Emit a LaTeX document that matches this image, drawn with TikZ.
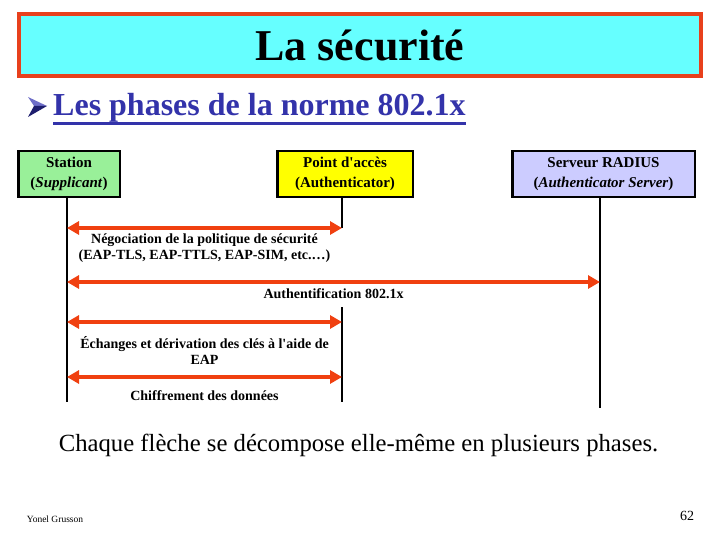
\documentclass[tikz,border=0pt]{standalone}
\usepackage{fontspec}
\setmainfont{Liberation Serif}
\usepackage{tikz}
\usetikzlibrary{arrows.meta,positioning,calc}
\definecolor{titlecyan}{RGB}{102,255,255}
\definecolor{titleborder}{RGB}{232,64,28}
\definecolor{subblue}{RGB}{51,51,170}
\definecolor{bulletdark}{RGB}{30,30,110}
\definecolor{bulletlight}{RGB}{110,110,200}
\definecolor{phasered}{RGB}{240,64,16}
\definecolor{stagreen}{RGB}{153,240,153}
\definecolor{accyellow}{RGB}{255,255,0}
\definecolor{radlilac}{RGB}{204,204,255}

\begin{document}
\begin{tikzpicture}[
  x=1pt, y=-1pt,
  titlebox/.style={rectangle, draw=titleborder, fill=titlecyan, line width=3.5pt,
    minimum width=682pt, minimum height=62pt, font=\fontsize{44}{48}\selectfont\bfseries},
  actor/.style={rectangle, draw=black, line width=2.5pt, minimum height=46pt,
    align=center, inner sep=0pt, font=\fontsize{15}{20}\selectfont\bfseries},
  life/.style={black, line width=2.5pt},
  phase/.style={{Triangle[length=12pt,width=13pt]}-{Triangle[length=12pt,width=13pt]},
    phasered, line width=4.5pt},
  lbl/.style={align=center, inner sep=0pt, font=\fontsize{14}{16}\selectfont\bfseries}]
\useasboundingbox[fill=white] (0,0) rectangle (720,540);
% titre
\node[titlebox] (title) at (360,45) {La sécurité};
\fill[bulletlight] (28,97) -- (47,106) -- (34,106) -- cycle;
\fill[bulletdark] (34,106) -- (47,106) -- (28,117) -- cycle;
\node[anchor=base west, inner sep=0pt, text=subblue,
  font=\fontsize{32}{36}\selectfont\bfseries] (sub) at (53,116) {Les phases de la norme 802.1x};
\draw[subblue, line width=2.5pt] ([yshift=-7.5pt]sub.base west) -- ([yshift=-7.5pt]sub.base east);
% acteurs
\node[actor, fill=stagreen, minimum width=101.5pt] (sta) at (69,174) {Station\\(\textit{Supplicant})};
\node[actor, fill=accyellow, minimum width=135.5pt] (acc) at (345,174) {Point d\textquotesingle accès\\(Authenticator)};
\node[actor, fill=radlilac, minimum width=182.5pt] (rad) at (603.5,174) {Serveur RADIUS\\(\textit{Authenticator Server})};
% lignes de vie
\coordinate (sta-end) at (67,402);
\coordinate (acc-a) at (342,228);
\coordinate (acc-b) at (342,307);
\coordinate (acc-end) at (342,402);
\coordinate (rad-end) at (600,408);
\draw[life] (sta.south -| sta-end) -- (sta-end);
\draw[life] (acc.south -| acc-a) -- (acc-a);
\draw[life] (acc-b) -- (acc-end);
\draw[life] (rad.south -| rad-end) -- (rad-end);
% phases
\foreach \n/\y/\xe/\dy/\txt in {
  neg/228/342/20/{Négociation de la politique de sécurité\\(EAP-TLS, EAP-TTLS, EAP-SIM, etc.…)},
  auth/282/600/12/{Authentification 802.1x},
  cle/322/342/28/{Échanges et dérivation des clés à l\textquotesingle aide de\\EAP},
  chif/377/342/19/{Chiffrement des données}}
{
  \coordinate (\n-l) at (67,\y);
  \coordinate (\n-r) at (\xe,\y);
  \draw[phase] (\n-l) -- (\n-r);
  \node[lbl] (\n-t) at ($(\n-l)!0.5!(\n-r)+(0,\dy)$) {\txt};
}
% bas de page
\node[font=\fontsize{24.7}{28}\selectfont] (note) at (358.5,445) {Chaque flèche se décompose elle-même en plusieurs phases.};
\node[font=\fontsize{9.5}{11}\selectfont] (author) at (55,519) {Yonel Grusson};
\node[font=\fontsize{14}{16}\selectfont] (page) at (687,516) {62};
\end{tikzpicture}
\end{document}
